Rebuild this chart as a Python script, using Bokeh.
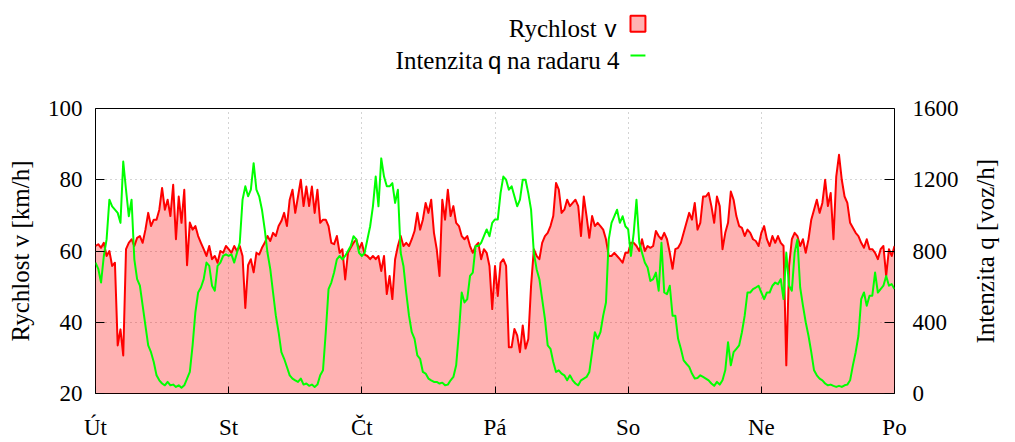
from math import pi
from bokeh.plotting import figure
from bokeh.models import Range1d, LinearAxis, FixedTicker
from bokeh.layouts import column
from bokeh.core.properties import value
from bokeh.embed import file_html
from bokeh.resources import INLINE

# ---------------- data (half-hour samples, hours from start) ----------------
day_labels = ["Út", "St", "Čt", "Pá", "So", "Ne", "Po"]
day_ticks = [0, 24, 48, 72, 96, 120, 144]

speed_ut = [61.4, 61.9, 60.9, 62.3, 58.6, 60.0, 55.8, 56.7, 33.5, 38.0, 30.7, 60.5,
            62.3, 63.3, 61.4, 63.7, 64.2, 62.3, 66.0, 70.7, 67.0, 68.8, 68.8, 71.6,
            77.7, 71.6, 74.4, 69.8, 78.6, 63.3, 75.3, 67.9, 77.2, 56.0, 68.0, 66.0,
            67.0, 64.2, 62.3, 60.5, 58.6, 61.4, 57.7, 58.6, 56.7, 60.0, 59.5, 61.4]
speed_st = [60.5, 59.5, 61.4, 60.0, 61.4, 58.6, 44.0, 56.0, 57.7, 54.0, 59.5, 59.0,
            60.9, 62.3, 64.2, 62.8, 65.1, 64.2, 67.0, 68.4, 70.7, 67.0, 74.4, 77.2,
            70.7, 75.3, 80.0, 72.6, 78.1, 72.6, 78.1, 70.7, 77.2, 67.9, 68.8, 68.8,
            67.0, 62.3, 61.9, 64.2, 59.5, 60.5, 52.0, 59.5, 60.9, 62.3, 63.3, 60.5]
speed_ct = [62.3, 59.0, 58.6, 57.7, 58.6, 57.7, 58.6, 54.4, 58.6, 47.9, 53.0, 46.5,
            57.7, 61.4, 64.2, 61.4, 62.3, 61.4, 63.3, 65.6, 70.7, 66.0, 68.8, 73.5,
            70.7, 74.4, 65.1, 60.5, 53.0, 74.4, 68.8, 77.2, 69.8, 72.6, 67.9, 67.0,
            64.2, 63.3, 64.2, 61.4, 59.5, 61.4, 62.3, 57.7, 60.5, 59.5, 55.8, 43.7]
speed_pa = [55.8, 47.4, 56.7, 57.7, 55.8, 33.0, 33.0, 38.1, 36.3, 31.6, 39.1, 32.6,
            35.3, 50.2, 60.5, 58.6, 57.7, 62.3, 64.2, 65.1, 67.0, 69.8, 79.1, 77.2,
            70.7, 71.6, 74.4, 72.6, 73.5, 74.4, 72.6, 64.2, 75.3, 69.8, 63.7, 69.8,
            67.0, 67.9, 67.0, 66.0, 63.3, 58.6, 58.6, 59.5, 58.6, 57.7, 56.7, 59.5]
speed_so = [59.5, 62.3, 62.3, 61.4, 60.0, 63.3, 60.0, 61.4, 60.9, 61.4, 65.6, 64.2,
            63.3, 65.1, 63.3, 59.5, 55.0, 60.5, 60.9, 62.3, 65.1, 67.9, 70.7, 68.8,
            73.5, 66.0, 67.9, 75.3, 75.3, 76.3, 72.6, 67.9, 75.3, 72.6, 60.5, 65.1,
            67.9, 76.7, 74.4, 69.8, 67.0, 66.5, 64.2, 66.0, 65.1, 63.3, 62.8, 61.4]
speed_ne = [65.1, 67.0, 63.3, 61.4, 64.2, 62.3, 64.2, 62.3, 61.4, 27.9, 55.8, 63.3,
            65.1, 64.2, 61.4, 63.3, 59.5, 63.3, 68.8, 71.6, 74.4, 70.7, 73.5, 80.0,
            72.6, 76.3, 63.3, 80.9, 87.0, 80.0, 75.3, 73.5, 67.9, 66.5, 65.1, 64.2,
            62.3, 60.9, 63.3, 60.5, 60.5, 59.5, 57.7, 60.5, 61.4, 53.0, 60.5, 58.6,
            61.4]

q_ut = [735, 700, 623, 772, 865, 1088, 1050, 1032, 1014, 958, 1302, 1144,
        995, 1088, 753, 642, 605, 493, 381, 270, 232, 177, 102, 74,
        56, 46, 65, 46, 50, 37, 46, 32, 46, 84, 121, 270,
        456, 567, 595, 642, 735, 716, 605, 577, 716, 735, 772, 781]
q_st = [772, 781, 735, 790, 846, 1088, 1163, 1107, 1144, 1293, 1144, 1107,
        1032, 921, 790, 698, 567, 437, 344, 232, 195, 149, 102, 84,
        74, 65, 84, 50, 56, 43, 50, 37, 50, 102, 130, 344,
        586, 623, 679, 753, 772, 753, 772, 800, 828, 883, 865, 790]
q_ct = [772, 790, 865, 939, 1051, 1218, 1051, 1320, 1218, 1163, 1163, 1181,
        1070, 1144, 790, 716, 567, 437, 344, 307, 214, 195, 121, 112,
        84, 74, 65, 65, 56, 61, 46, 50, 74, 93, 158, 344,
        567, 511, 530, 660, 679, 828, 828, 846, 883, 921, 883, 958]
q_pa = [977, 977, 1125, 1218, 1200, 1144, 1163, 1107, 1051, 1088, 1200, 1200,
        1125, 1032, 790, 698, 642, 530, 419, 270, 251, 177, 121, 130,
        112, 102, 74, 102, 74, 56, 46, 74, 84, 93, 121, 232,
        344, 307, 344, 437, 511, 865, 958, 995, 1032, 958, 995, 939]
q_so = [921, 772, 902, 1088, 846, 790, 735, 707, 632, 642, 679, 577,
        846, 567, 558, 605, 437, 437, 307, 251, 186, 167, 149, 112,
        84, 87, 102, 93, 84, 74, 56, 43, 65, 50, 74, 130,
        288, 158, 232, 251, 270, 344, 437, 567, 567, 586, 595, 605]
q_ne = [567, 530, 567, 567, 605, 623, 614, 642, 530, 790, 605, 577,
        790, 865, 595, 493, 400, 324, 232, 130, 102, 84, 74, 56,
        46, 50, 43, 37, 43, 37, 46, 50, 74, 158, 232, 324,
        530, 567, 493, 549, 549, 679, 567, 586, 605, 660, 605, 614,
        586]

speed = speed_ut + speed_st + speed_ct + speed_pa + speed_so + speed_ne
intensity = q_ut + q_st + q_ct + q_pa + q_so + q_ne
hours = [i * 0.5 for i in range(len(speed))]

# ---------------- styling ----------------
SERIF = "Liberation Serif"
SANS = "Liberation Sans"
FS = "23px"      # tick labels
FT = "25px"      # titles / legend
W = 1015
RED = "#ff0000"
GREEN = "#00ff00"
GRID = "#a8a8a8"
FRAME_L, FRAME_R = 95, 897   # frame position on the page (px)

# ---------------- legend strip (frame is aligned with the main frame) ----------------
LH = 80
leg = figure(width=W, height=LH, x_range=Range1d(FRAME_L, FRAME_R), y_range=Range1d(0, LH),
             x_axis_location=None, y_axis_location=None, output_backend="svg",
             toolbar_location=None, min_border=0)
leg.grid.visible = False
leg.outline_line_color = None

def ltext(x, y_page, txt, align, font, size=FT):
    leg.text(x=[x], y=[LH - y_page + 5.5], text=[txt], text_align=align,
             text_baseline="alphabetic", text_font=value(font), text_font_size=size,
             text_color="black")

ltext(598, 33.3, "Rychlost", "right", SERIF)
ltext(606, 33.3, "v", "left", SANS, "24px")
ltext(484, 65, "Intenzita", "right", SERIF)
ltext(489, 65, "q", "left", SANS, "24px")
ltext(621, 65, "na radaru 4", "right", SERIF)
leg.rect(x=[639.5], y=[LH - 23.3], width=15, height=16, fill_color=RED, fill_alpha=0.3,
         line_color=RED, line_width=2)
leg.line(x=[632, 647], y=[LH - 55, LH - 55], line_color=GREEN, line_width=2)

# ---------------- main plot ----------------
p = figure(width=W, height=362, x_range=Range1d(0, 144), y_range=Range1d(20, 100),
           output_backend="svg", toolbar_location=None,
           min_border_left=FRAME_L, min_border_right=W - FRAME_R, min_border_top=28,
           min_border_bottom=47)
p.extra_y_ranges = {"q": Range1d(0, 1600)}

p.varea(x=hours, y1=[20] * len(speed), y2=speed, fill_color=RED, fill_alpha=0.3)
p.line(hours, speed, line_color=RED, line_width=2, line_join="round")
p.line(hours, intensity, y_range_name="q", line_color=GREEN, line_width=2,
       line_join="round")

p.outline_line_color = "black"
p.outline_line_width = 1

p.xaxis.ticker = FixedTicker(ticks=day_ticks)
p.xaxis.major_label_overrides = {t: lab for t, lab in zip(day_ticks, day_labels)}
p.yaxis.ticker = FixedTicker(ticks=[20, 40, 60, 80, 100])

right = LinearAxis(y_range_name="q", ticker=FixedTicker(ticks=[0, 400, 800, 1200, 1600]))
p.add_layout(right, "right")

for ax in [p.xaxis[0], p.yaxis[0], right]:
    ax.axis_line_color = None
    ax.major_tick_out = 0
    ax.major_tick_line_color = "black"
    ax.minor_tick_line_color = None
    ax.major_label_text_font = SERIF
    ax.major_label_text_font_size = FS
    ax.major_label_text_color = "black"
    ax.axis_label_text_font = SERIF
    ax.axis_label_text_font_size = FT
    ax.axis_label_text_font_style = "normal"
    ax.axis_label_text_color = "black"
p.xaxis.major_tick_in = 7
p.xaxis.major_label_standoff = 21
p.yaxis.major_tick_in = 9
p.yaxis.major_label_standoff = 13
p.yaxis.axis_label = "Rychlost v [km/h]"
p.yaxis.axis_label_standoff = 11
right.major_tick_in = 10
right.major_label_standoff = 18
# rotated label reads bottom-to-top, starting at the frame bottom; the
# non-breaking spaces lift its visible start to where the reference has it
right.axis_label = "\u00a0" * 8 + "Intenzita q [voz/h]"
right.axis_label_standoff = 24
right.axis_label_orientation = pi / 2
right.axis_label_align = "start"
right.axis_label_text_baseline = "top"

for g in [p.xgrid[0], p.ygrid[0]]:
    g.grid_line_color = GRID
    g.grid_line_dash = "1 4"
    g.grid_line_width = 1
p.xgrid.ticker = FixedTicker(ticks=day_ticks)
p.ygrid.ticker = FixedTicker(ticks=[20, 40, 60, 80, 100])

layout = column(leg, p, spacing=0)
open("out.html", "w").write(file_html(layout, INLINE))
